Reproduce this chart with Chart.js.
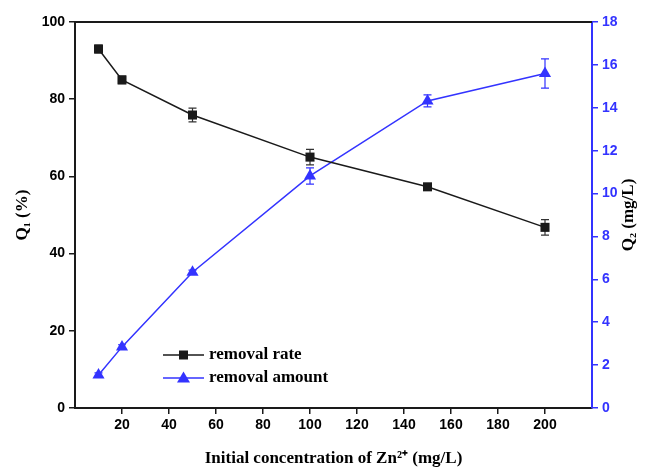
<!DOCTYPE html>
<html>
<head>
<meta charset="utf-8">
<script src="https://cdn.jsdelivr.net/npm/chart.js@4.4.1/dist/chart.umd.min.js"></script>
<style>
  html, body { margin: 0; padding: 0; background: #fff; }
  #wrap { width: 648px; height: 467px; position: relative; }
</style>
</head>
<body>
<div id="wrap"><canvas id="c"></canvas></div>
<script>
// ---- data ----
const concentrations = [10, 20, 50, 100, 150, 200];
const removalRate = [93.0, 85.0, 75.9, 65.0, 57.3, 46.8];
const removalRateErr = [1.0, 1.0, 1.8, 2.0, 0.5, 2.0];
const removalAmount = [1.54, 2.85, 6.33, 10.82, 14.32, 15.6];
const removalAmountErr = [0.1, 0.1, 0.1, 0.38, 0.28, 0.68];
const xTicks = [20, 40, 60, 80, 100, 120, 140, 160, 180, 200];
const leftTicks = [0, 20, 40, 60, 80, 100];
const rightTicks = [0, 2, 4, 6, 8, 10, 12, 14, 16, 18];
const seriesNames = ['removal rate', 'removal amount'];
const xTitle = 'Initial concentration of Zn²⁺ (mg/L)';
const leftTitle = 'Q₁ (%)';
const rightTitle = 'Q₂ (mg/L)';

const BLACK = '#1a1a1a';
const BLUE = '#3333ff';

const errorBars = {
  id: 'errorBars',
  beforeDatasetsDraw(chart) {
    const ctx = chart.ctx;
    chart.data.datasets.forEach((ds, i) => {
      if (!ds.errors) return;
      const xs = chart.scales.x, ys = chart.scales[ds.yAxisID];
      ctx.save();
      ctx.strokeStyle = ds.errColor;
      ctx.lineWidth = 1.2;
      ds.data.forEach((p, j) => {
        const e = ds.errors[j];
        const x = xs.getPixelForValue(p.x);
        const y1 = ys.getPixelForValue(p.y + e);
        const y2 = ys.getPixelForValue(p.y - e);
        ctx.beginPath();
        ctx.moveTo(x, y1); ctx.lineTo(x, y2);
        ctx.moveTo(x - 4, y1); ctx.lineTo(x + 4, y1);
        ctx.moveTo(x - 4, y2); ctx.lineTo(x + 4, y2);
        ctx.stroke();
      });
      ctx.restore();
    });
  }
};

const decorations = {
  id: 'decorations',
  afterDraw(chart) {
    const ctx = chart.ctx;
    const a = chart.chartArea;
    ctx.save();
    // top frame line
    ctx.strokeStyle = BLACK;
    ctx.lineWidth = 2;
    ctx.beginPath();
    ctx.moveTo(a.left, a.top);
    ctx.lineTo(a.right, a.top);
    ctx.stroke();
    // right axis title (reads bottom to top)
    ctx.fillStyle = '#000';
    ctx.font = 'bold 17px "Liberation Serif", "Times New Roman", serif';
    ctx.textAlign = 'center';
    ctx.textBaseline = 'middle';
    ctx.translate(629, 215);
    ctx.rotate(-Math.PI / 2);
    ctx.fillText(rightTitle, 0, 0);
    ctx.restore();

    // legend
    ctx.save();
    const rows = [
      { y: 355, color: BLACK, style: 'rect', name: seriesNames[0] },
      { y: 378, color: BLUE, style: 'triangle', name: seriesNames[1] }
    ];
    rows.forEach(r => {
      ctx.strokeStyle = r.color;
      ctx.lineWidth = 1.5;
      ctx.beginPath();
      ctx.moveTo(163, r.y); ctx.lineTo(204, r.y);
      ctx.stroke();
      ctx.fillStyle = r.color;
      ctx.beginPath();
      if (r.style === 'rect') {
        ctx.rect(183.5 - 4.5, r.y - 4.5, 9, 9);
      } else {
        ctx.moveTo(183.5, r.y - 6.5);
        ctx.lineTo(183.5 + 6.5, r.y + 4.5);
        ctx.lineTo(183.5 - 6.5, r.y + 4.5);
        ctx.closePath();
      }
      ctx.fill();
      ctx.fillStyle = '#000';
      ctx.font = 'bold 17px "Liberation Serif", "Times New Roman", serif';
      ctx.textAlign = 'left';
      ctx.textBaseline = 'middle';
      ctx.fillText(r.name, 209, r.y);
    });
    ctx.restore();
  }
};

const tickFont = { family: '"Liberation Sans", Arial, sans-serif', size: 14, weight: 'bold' };
const titleFont = { family: '"Liberation Serif", "Times New Roman", serif', size: 17, weight: 'bold' };

new Chart(document.getElementById('c'), {
  type: 'line',
  data: {
    datasets: [
      {
        label: seriesNames[0],
        data: concentrations.map((x, i) => ({ x, y: removalRate[i] })),
        errors: removalRateErr,
        errColor: '#333',
        yAxisID: 'y',
        borderColor: BLACK,
        backgroundColor: BLACK,
        borderWidth: 1.5,
        pointStyle: 'rect',
        pointRadius: 6.4,
        pointHoverRadius: 6.4,
        pointBorderWidth: 0,
        tension: 0
      },
      {
        label: seriesNames[1],
        data: concentrations.map((x, i) => ({ x, y: removalAmount[i] })),
        errors: removalAmountErr,
        errColor: BLUE,
        yAxisID: 'y1',
        borderColor: BLUE,
        backgroundColor: BLUE,
        borderWidth: 1.5,
        pointStyle: 'triangle',
        pointRadius: 7,
        pointHoverRadius: 7,
        pointBorderWidth: 0,
        tension: 0
      }
    ]
  },
  options: {
    responsive: true,
    maintainAspectRatio: false,
    animation: false,
    events: [],
    layout: { padding: { top: 22, left: 0, right: 0, bottom: 0 } },
    plugins: {
      legend: { display: false },
      tooltip: { enabled: false }
    },
    scales: {
      x: {
        type: 'linear',
        min: 0,
        max: 220,
        afterBuildTicks: s => { s.ticks = xTicks.map(v => ({ value: v })); },
        afterFit: s => { s.height = 59; },
        ticks: { font: tickFont, color: '#000', padding: 3, maxRotation: 0 },
        grid: { drawOnChartArea: false, drawTicks: true, tickLength: 6, color: BLACK, lineWidth: 1.5 },
        border: { display: true, color: BLACK, width: 2 },
        title: { display: true, text: xTitle, font: titleFont, color: '#000', padding: { top: 0, bottom: -2 } }
      },
      y: {
        type: 'linear',
        position: 'left',
        min: 0,
        max: 100,
        afterBuildTicks: s => { s.ticks = leftTicks.map(v => ({ value: v })); },
        afterFit: s => { s.width = 75; },
        ticks: { font: tickFont, color: '#000', padding: 4 },
        grid: { drawOnChartArea: false, drawTicks: true, tickLength: 6, color: BLACK, lineWidth: 1.5 },
        border: { display: true, color: BLACK, width: 2 },
        title: { display: true, text: leftTitle, font: titleFont, color: '#000', padding: { top: 12, bottom: 0 } }
      },
      y1: {
        type: 'linear',
        position: 'right',
        min: 0,
        max: 18,
        afterBuildTicks: s => { s.ticks = rightTicks.map(v => ({ value: v })); },
        afterFit: s => { s.width = 56; },
        ticks: { font: tickFont, color: BLUE, padding: 4 },
        grid: { drawOnChartArea: false, drawTicks: true, tickLength: 6, color: BLUE, lineWidth: 1.5 },
        border: { display: true, color: BLUE, width: 2 }
      }
    }
  },
  plugins: [errorBars, decorations]
});
</script>
</body>
</html>
